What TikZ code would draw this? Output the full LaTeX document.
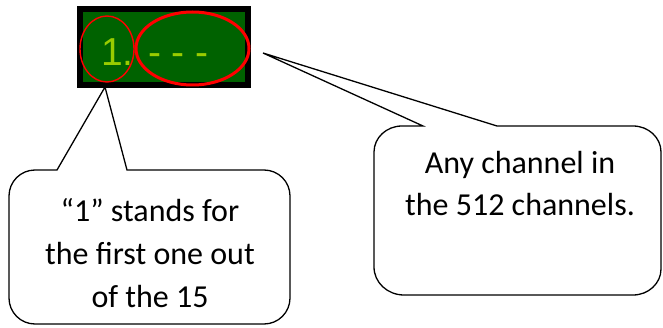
\documentclass[tikz,border=0pt]{standalone}
\usepackage{fontspec}
\setmainfont{Carlito}
\newfontfamily\dispfont{Liberation Sans}
\definecolor{dispgreen}{RGB}{0,98,0}
\definecolor{dispyellow}{RGB}{153,204,0}
\definecolor{redmark}{RGB}{255,0,0}
\begin{document}
\begin{tikzpicture}[x=1pt,y=1pt,
  callout/.style={draw=black,line width=1.3pt,fill=white,line join=miter},
  calltext/.style={anchor=base,inner sep=0pt,font=\fontsize{32}{43}\selectfont},
  disptext/.style={anchor=base west,inner sep=0pt,text=dispyellow,font=\dispfont\fontsize{39}{44}\selectfont}]
\useasboundingbox (0,0) rectangle (663,327);
% display
\fill[black] (77,239) rectangle (251,321);
\fill[dispgreen] (83,245) rectangle (245,315);
\node[disptext] (disp) at (101,261) {1. - - -};
\draw[redmark,line width=1.4pt] (107,278) ellipse[x radius=27,y radius=33];
\draw[redmark,line width=3pt] (192.5,278.5) ellipse[x radius=56.5,y radius=36.5];
% left callout
\coordinate (ltip) at (105,240);
\draw[callout] (57,157) -- (ltip) -- (127,157) -- (264,157)
  arc[start angle=90,end angle=0,radius=26] -- (290,29)
  arc[start angle=0,end angle=-90,radius=26] -- (35,3)
  arc[start angle=270,end angle=180,radius=26] -- (9,131)
  arc[start angle=180,end angle=90,radius=26] -- cycle;
\node[calltext] (l1) at (150,106) {“1” stands for};
\node[calltext] (l2) at (150,63) {the first one out};
\node[calltext] (l3) at (150,20) {of the 15};
% right callout
\coordinate (rtip) at (263,274);
\draw[callout] (423,201) -- (rtip) -- (497,201) -- (633,201)
  arc[start angle=90,end angle=0,x radius=28,y radius=26] -- (661,58)
  arc[start angle=0,end angle=-90,x radius=28,y radius=26] -- (404,32)
  arc[start angle=270,end angle=180,x radius=30,y radius=28] -- (374,175)
  arc[start angle=180,end angle=90,x radius=28,y radius=26] -- cycle;
\node[calltext] (r1) at (520,154) {Any channel in};
\node[calltext] (r2) at (520,112) {the 512 channels.};
\end{tikzpicture}
\end{document}
